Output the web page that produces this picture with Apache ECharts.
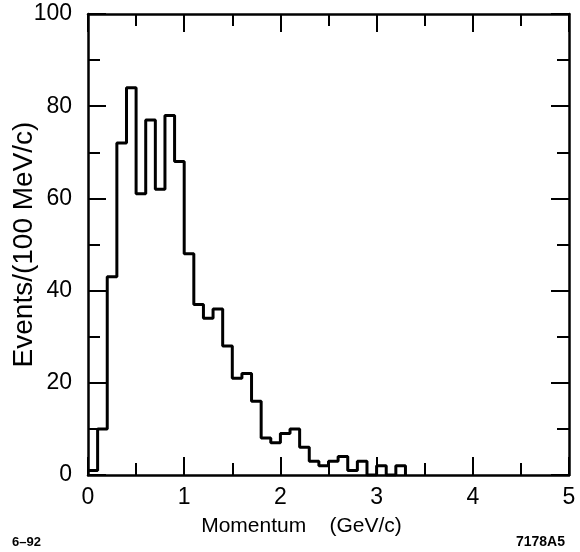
<!DOCTYPE html>
<html><head><meta charset="utf-8">
<script src="https://cdn.jsdelivr.net/npm/echarts@6/dist/echarts.min.js"></script>
<style>html,body{margin:0;padding:0;background:#fff}#c{width:580px;height:552px}</style>
</head><body><div id="c"></div>
<script>
// Histogram bins (lower edge, GeV/c), width 0.1 GeV/c
const binLow = [0.0,0.1,0.2,0.3,0.4,0.5,0.6,0.7,0.8,0.9,
                1.0,1.1,1.2,1.3,1.4,1.5,1.6,1.7,1.8,1.9,
                2.0,2.1,2.2,2.3,2.4,2.5,2.6,2.7,2.8,2.9,
                3.0,3.1,3.2];
const binHighLast = 3.3;
const counts = [1,10,43,72,84,61,77,62,78,68,
                48,37,34,36,28,21,22,16,8,7,
                9,10,6,3,2,3,4,1,3,0,
                2,0,2];
const xTickLabels = [0,1,2,3,4,5];
const yTickLabels = [0,20,40,60,80,100];
const xTitle = 'Momentum    (GeV/c)';
const yTitle = 'Events/(100 MeV/c)';
const noteLeft = '6–92';
const noteRight = '7178A5';

const stepData = binLow.map((x,i)=>[x,counts[i]]);
stepData.push([binHighLast,0]);

const font = 'Liberation Sans, Arial, Helvetica, sans-serif';
function xAx(pos, labels){
  return {type:'value',position:pos,min:xTickLabels[0],max:xTickLabels[xTickLabels.length-1],interval:1,
    axisLine:{show:true,onZero:false,lineStyle:{color:'#000',width:2.5}},
    axisTick:{show:true,inside:true,length:18,lineStyle:{color:'#000',width:2}},
    minorTick:{show:true,splitNumber:2,length:12,lineStyle:{color:'#000',width:2}},
    splitLine:{show:false},minorSplitLine:{show:false},
    axisLabel:{show:labels,color:'#000',fontSize:23,fontFamily:font,margin:11},
    name: labels?xTitle:'',nameLocation:'middle',nameGap:41,nameMoveOverlap:false,
    nameTextStyle:{color:'#000',fontSize:21,fontFamily:font,padding:[0,54,0,0]}};
}
function yAx(pos, labels){
  return {type:'value',position:pos,min:yTickLabels[0],max:yTickLabels[yTickLabels.length-1],interval:20,
    axisLine:{show:true,onZero:false,lineStyle:{color:'#000',width:2.5}},
    axisTick:{show:true,inside:true,length:18,lineStyle:{color:'#000',width:2}},
    minorTick:{show:true,splitNumber:2,length:12,lineStyle:{color:'#000',width:2}},
    splitLine:{show:false},minorSplitLine:{show:false},
    axisLabel:{show:labels,color:'#000',fontSize:23,fontFamily:font,margin:16},
    name: labels?yTitle:'',nameLocation:'middle',nameGap:50,nameMoveOverlap:false,
    nameTextStyle:{color:'#000',fontSize:28,fontFamily:font}};
}
const chart = echarts.init(document.getElementById('c'));
chart.setOption({
  animation:false,
  backgroundColor:'#fff',
  grid:{left:88,right:11,top:14,bottom:77,containLabel:false,outerBoundsMode:'none'},
  xAxis:[xAx('bottom',true), xAx('top',false)],
  yAxis:[yAx('left',true), yAx('right',false)],
  series:[{type:'line',step:'end',data:stepData,symbol:'none',xAxisIndex:0,yAxisIndex:0,
    lineStyle:{color:'#000',width:3},z:5}],
  graphic:[
    {type:'text',left:12,top:536,style:{text:noteLeft,fontSize:13,fontWeight:'bold',fontFamily:font,fill:'#000'}},
    {type:'text',right:15,top:535,style:{text:noteRight,fontSize:14,fontWeight:'bold',fontFamily:font,fill:'#000'}}
  ]
});
</script></body></html>
